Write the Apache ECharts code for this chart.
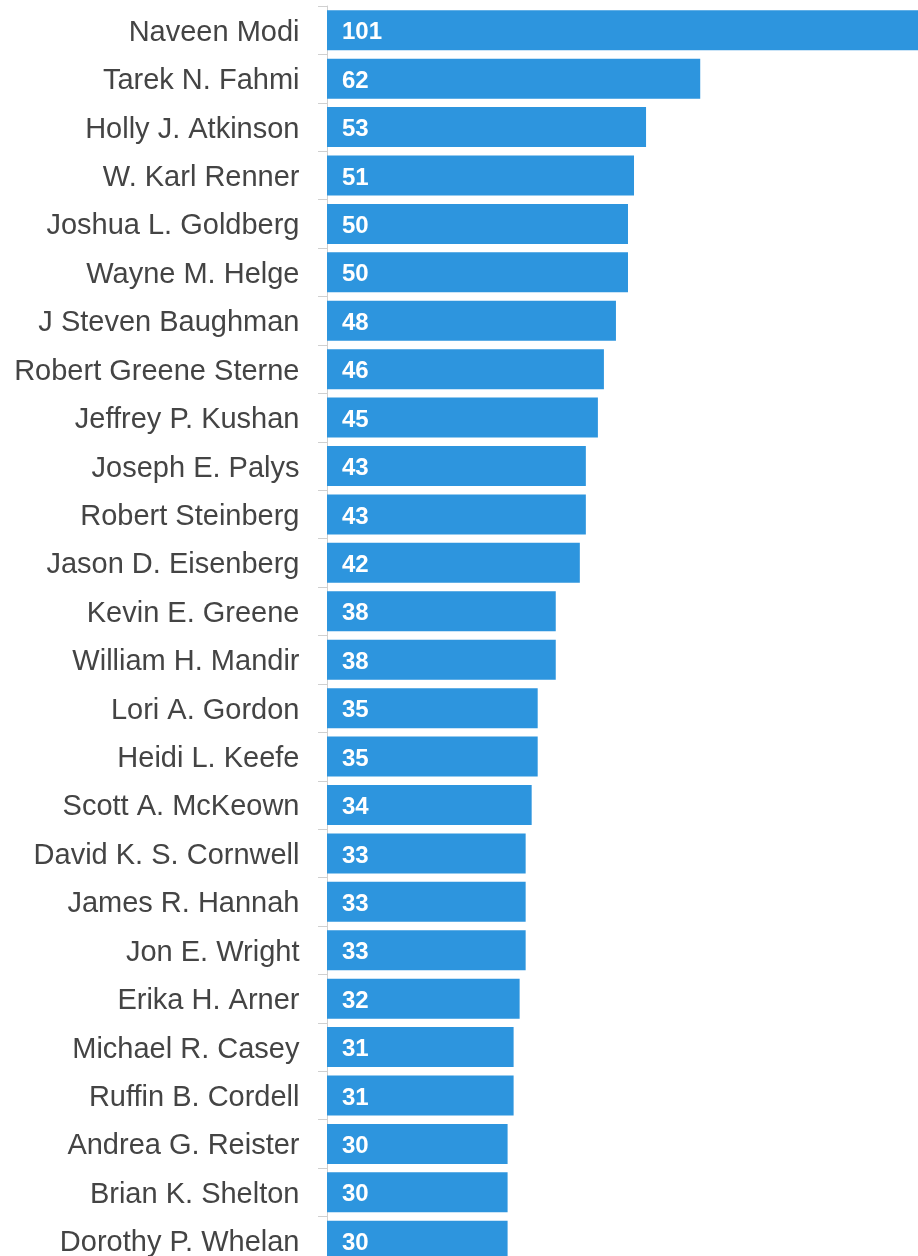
<!DOCTYPE html>
<html>
<head>
<meta charset="utf-8">
<script src="https://cdn.jsdelivr.net/npm/echarts@6/dist/echarts.min.js"></script>
<style>
  html, body { margin: 0; padding: 0; background: #fff; }
  #chart { width: 918px; height: 1256px; }
</style>
</head>
<body>
<div id="chart"></div>
<script>
const names = [
  'Naveen Modi', 'Tarek N. Fahmi', 'Holly J. Atkinson', 'W. Karl Renner',
  'Joshua L. Goldberg', 'Wayne M. Helge', 'J Steven Baughman', 'Robert Greene Sterne',
  'Jeffrey P. Kushan', 'Joseph E. Palys', 'Robert Steinberg', 'Jason D. Eisenberg',
  'Kevin E. Greene', 'William H. Mandir', 'Lori A. Gordon', 'Heidi L. Keefe',
  'Scott A. McKeown', 'David K. S. Cornwell', 'James R. Hannah', 'Jon E. Wright',
  'Erika H. Arner', 'Michael R. Casey', 'Ruffin B. Cordell', 'Andrea G. Reister',
  'Brian K. Shelton', 'Dorothy P. Whelan'
];
const counts = [
  101, 62, 53, 51, 50, 50, 48, 46, 45, 43, 43, 42, 38,
  38, 35, 35, 34, 33, 33, 33, 32, 31, 31, 30, 30, 30
];

const font = '"Liberation Sans", Arial, sans-serif';

const chart = echarts.init(document.getElementById('chart'));
chart.setOption({
  animation: false,
  grid: {
    left: 327, top: 6, width: 608, height: 1259,
    containLabel: false, outerBoundsMode: 'none'
  },
  xAxis: {
    type: 'value', min: 0, max: 101, show: false
  },
  yAxis: {
    type: 'category',
    inverse: true,
    data: names,
    offset: 1.5,
    axisLine: { show: true, lineStyle: { color: '#d0d0d0', width: 1 } },
    axisTick: { show: true, length: 9, lineStyle: { color: '#d0d0d0' } },
    axisLabel: {
      margin: 26,
      formatter: v => '{n|' + v + '}',
      rich: {
        n: { color: '#444', fontSize: 29, fontFamily: font, padding: [5, 0, 0, 0] }
      }
    },
    splitLine: { show: false }
  },
  series: [{
    type: 'bar',
    data: counts,
    barWidth: 40,
    itemStyle: { color: '#2d95de' },
    label: {
      show: true, position: 'insideLeft', distance: 15,
      formatter: p => '{v|' + p.value + '}',
      rich: {
        v: { color: '#fff', fontWeight: 'bold', fontSize: 24, fontFamily: font, padding: [5, 0, 0, 0] }
      }
    }
  }]
});
</script>
</body>
</html>
